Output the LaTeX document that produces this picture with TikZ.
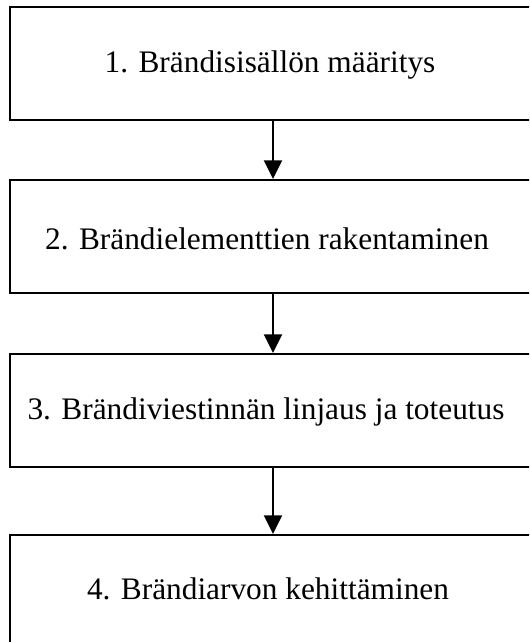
\documentclass[tikz,border=0pt]{standalone}
\usepackage{fontspec}
\setmainfont{Liberation Serif}
\usetikzlibrary{arrows.meta}
\begin{document}
\begin{tikzpicture}[x=0.75pt,y=-0.75pt,
  stepbox/.style={draw=black,line width=1.5pt,rectangle,minimum width=395pt,minimum height=84.75pt,inner sep=0pt},
  steptext/.style={font=\fontsize{23.5}{28}\selectfont,inner sep=0pt},
  arr/.style={line width=1.5pt,-{Triangle[width=13.5pt,length=14pt]}}]
\clip (0,0) rectangle (529,642);
\fill[white] (0,0) rectangle (529,642);
\node[stepbox] (b1) at (273,63.5) {};
\node[stepbox] (b2) at (273,236.5) {};
\node[stepbox] (b3) at (273,410.5) {};
\node[stepbox] (b4) at (273,591.5) {};
\node[steptext] (t1) at (270,65) {1. Brändisisällön määritys};
\node[steptext] (t2) at (267,239) {2. Brändielementtien rakentaminen};
\node[steptext] (t3) at (266,412) {3. Brändiviestinnän linjaus ja toteutus};
\node[steptext] (t4) at (268,589) {4. Brändiarvon kehittäminen};
\draw[arr] (b1.south) -- (b2.north);
\draw[arr] (b2.south) -- (b3.north);
\draw[arr] (b3.south) -- (b4.north);
\end{tikzpicture}
\end{document}
